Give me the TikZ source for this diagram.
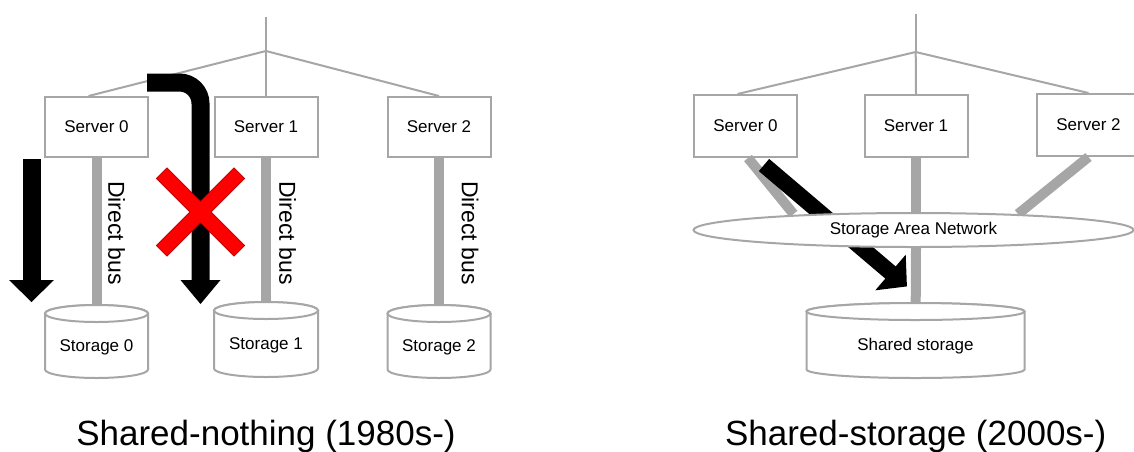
\documentclass[tikz,border=0pt]{standalone}
\usepackage{fontspec}
\setmainfont{Liberation Sans}
\usetikzlibrary{calc,shapes.geometric}
\definecolor{lg}{RGB}{166,166,166}
\newcommand\dbcyl[6]{%
  \draw[cylline] (#2-#5,-#3-8.5) -- (#2-#5,-#4+8.5) arc[start angle=180,end angle=360,x radius=#5,y radius=8.5] -- (#2+#5,-#3-8.5) arc[start angle=0,end angle=180,x radius=#5,y radius=8.5] -- cycle;
  \draw[cylline] (#2,-#3-8.5) ellipse[x radius=#5,y radius=8.5];
  \node[lbl] (#1) at (#2,{-(#3+#4)/2-6}) {#6};
}
\begin{document}
\begin{tikzpicture}[x=1pt,y=1pt,
  tree/.style={draw=lg, line width=2pt},
  bus/.style={draw=lg, line width=10pt},
  server/.style={draw=lg, line width=2pt, fill=white, minimum width=103pt, minimum height=60pt, inner sep=0pt, font=\fontsize{17}{20}\selectfont},
  lbl/.style={font=\fontsize{17}{20}\selectfont, inner sep=0pt},
  dbus/.style={font=\fontsize{23}{26}\selectfont, rotate=-90, inner sep=0pt},
  cylline/.style={draw=lg, line width=2pt, fill=white},
  flow/.style={draw=black, line width=18pt},
  title/.style={font=\fontsize{35}{40}\selectfont, anchor=base, inner sep=0pt}
]
\useasboundingbox (0,0) rectangle (1134,-451);
\clip (0,0) rectangle (1134,-451);

% ---------------- left panel ----------------
\coordinate (Ltop) at (266,-17);
\coordinate (Lbr) at (266,-51);
\node[server] (LS0) at (96.5,-127) {Server 0};
\node[server] (LS1) at (266,-127) {Server 1};
\node[server] (LS2) at (439,-127) {Server 2};
\draw[tree] (Ltop) -- (Lbr);
\draw[tree] (Lbr) -- ([xshift=-8pt]LS0.north);
\draw[tree] (Lbr) -- (LS1.north);
\draw[tree] (Lbr) -- (LS2.north);

\coordinate (LD0-top) at (96.5,-305);
\coordinate (LD1-top) at (266,-302);
\coordinate (LD2-top) at (439,-305);
\draw[bus] (LS0.south) -- (LD0-top);
\draw[bus] (LS1.south) -- (LD1-top);
\draw[bus] (LS2.south) -- (LD2-top);
\dbcyl{LD0}{96.5}{305}{378}{51.5}{Storage 0}
\dbcyl{LD1}{266}{302}{377}{52}{Storage 1}
\dbcyl{LD2}{439}{305}{378}{51.5}{Storage 2}

\node[dbus] (LB0) at (116.5,-233) {Direct bus};
\node[dbus] (LB1) at (287.5,-233) {Direct bus};
\node[dbus] (LB2) at (470,-233) {Direct bus};

% black arrows
\coordinate (A1s) at (31.5,-159);
\coordinate (A1e) at (31.5,-281);
\draw[flow] (A1s) -- (A1e);
\fill[black] (9,-280) -- (54,-280) -- (31.5,-302) -- cycle;

\coordinate (A2s) at (147,-82.5);
\coordinate (A2c) at (200.5,-82.5);
\coordinate (A2e) at (200.5,-281);
\draw[flow, rounded corners=21pt] (A2s) -- (A2c) -- (A2e);
\fill[black] (180.5,-280) -- (220.5,-280) -- (200.5,-304) -- cycle;

% red cross
\begin{scope}[shift={(200.5,-212)}, rotate=45]
\filldraw[fill=red, draw=red!70!black, line width=0.6pt] (55,7.5) -- (55,-7.5) -- (7.5,-7.5) -- (7.5,-55) -- (-7.5,-55) -- (-7.5,-7.5) -- (-55,-7.5) -- (-55,7.5) -- (-7.5,7.5) -- (-7.5,55) -- (7.5,55) -- (7.5,7.5) -- cycle;
\end{scope}

\node[title] (LT) at (266,-445) {Shared-nothing (1980s-)};

% ---------------- right panel ----------------
\coordinate (Rtop) at (915.7,-14);
\coordinate (Rbr) at (915.7,-52);
\node[server, minimum height=62pt] (RS0) at (745.5,-126) {Server 0};
\node[server, minimum height=62pt] (RS1) at (916,-126) {Server 1};
\node[server, minimum height=62pt] (RS2) at (1088.5,-125) {Server 2};
\draw[tree] (Rtop) -- (Rbr);
\draw[tree] (Rbr) -- ([xshift=-8pt]RS0.north);
\draw[tree] (Rbr) -- (RS1.north);
\draw[tree] (Rbr) -- (RS2.north);

\coordinate (SANa) at (793.5,-214);
\coordinate (SANb) at (916,-214);
\coordinate (SANc) at (1018,-214);
\draw[bus] ([xshift=2.5pt]RS0.south) -- (SANa);
\draw[bus] (RS1.south) -- (SANb);
\draw[bus] (RS2.south) -- (SANc);

% black diagonal arrow (behind SAN)
\coordinate (A3s) at (764,-165);
\coordinate (A3e) at (892,-273.8);
\draw[draw=black, line width=16pt] (A3s) -- (A3e);
\fill[black] (905.7,-254.7) -- (875.3,-290.3) -- (906.9,-286.4) -- cycle;

\node[draw=lg, line width=2pt, fill=white, ellipse, minimum width=440pt, minimum height=34pt, inner sep=0pt, font=\fontsize{17}{20}\selectfont] (SAN) at (913.5,-230) {Storage Area Network};

\coordinate (SS-top) at (915.7,-303);
\draw[bus] (RS1.south |- SAN.south) -- (SS-top);
\dbcyl{SS}{915.5}{303}{378}{109}{Shared storage}

\node[title] (RT) at (915.7,-445) {Shared-storage (2000s-)};
\end{tikzpicture}
\end{document}
